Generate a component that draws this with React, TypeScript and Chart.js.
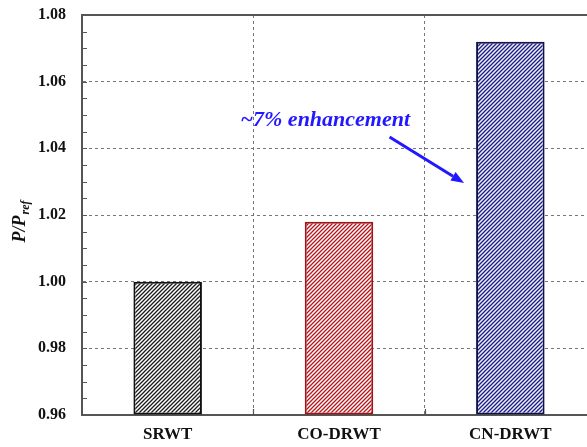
import React, { useEffect, useRef } from "react";
import { Chart, registerables } from "chart.js";

Chart.register(...registerables);

const categories = ["SRWT", "CO-DRWT", "CN-DRWT"];
const values = [1.0, 1.018, 1.072];
const stripeColors = ["#1c1c1c", "#b3161c", "#1e1e80"];
const stripeBackgrounds = ["#ffffff", "#ffffff", "#eef0ff"];
const borderColors = ["#111111", "#9e1418", "#12124a"];
const yMin = 0.96;
const yMax = 1.08;
const yStep = 0.02;
const yMinorStep = 0.005;
const annotationText = "~7% enhancement";
const annotationAt = [0.92, 1.0467];
const arrowFrom = [1.295, 1.0434];
const arrowTo = [1.73, 1.0296];

function makePattern(stripe: string, bg: string): CanvasPattern | string {
  const c = document.createElement("canvas");
  c.width = 4;
  c.height = 4;
  const g = c.getContext("2d");
  if (!g) return stripe;
  g.fillStyle = bg;
  g.fillRect(0, 0, 4, 4);
  g.strokeStyle = stripe;
  g.lineWidth = 1.3;
  g.beginPath();
  g.moveTo(-1, 5);
  g.lineTo(5, -1);
  g.moveTo(-1, 1);
  g.lineTo(1, -1);
  g.moveTo(3, 5);
  g.lineTo(5, 3);
  g.stroke();
  const p = g.createPattern(c, "repeat");
  return p || stripe;
}

const extras = {
  id: "extras",
  afterDraw(chart: any) {
    const { ctx, chartArea, scales } = chart;
    const { left, right, top, bottom } = chartArea;
    const x = scales.x;
    const y = scales.y;
    ctx.save();
    ctx.strokeStyle = "#555555";
    ctx.lineWidth = 2;
    ctx.beginPath();
    ctx.moveTo(left - 1, top);
    ctx.lineTo(right, top);
    ctx.lineTo(right, bottom);
    ctx.stroke();
    // minor ticks
    ctx.lineWidth = 1.2;
    ctx.beginPath();
    const n = Math.round((yMax - yMin) / yMinorStep);
    for (let i = 0; i <= n; i++) {
      const py = Math.round(y.getPixelForValue(yMin + i * yMinorStep)) + 0.5;
      ctx.moveTo(left, py);
      ctx.lineTo(left + 5, py);
    }
    for (let i = 0; i < categories.length - 1; i++) {
      const px = Math.round((x.getPixelForValue(i) + x.getPixelForValue(i + 1)) / 2) + 0.5;
      ctx.moveTo(px, bottom);
      ctx.lineTo(px, bottom - 6);
    }
    ctx.stroke();

    // y title
    ctx.fillStyle = "#111111";
    const big = "italic bold 18px 'Liberation Serif', serif";
    const small = "italic bold 12px 'Liberation Serif', serif";
    ctx.font = big;
    const w1 = ctx.measureText("P/P").width;
    ctx.font = small;
    const w2 = ctx.measureText("ref").width;
    ctx.translate(25, (top + bottom) / 2 + 7);
    ctx.rotate(-Math.PI / 2);
    ctx.textBaseline = "alphabetic";
    ctx.textAlign = "left";
    const sx = -(w1 + w2) / 2;
    ctx.font = big;
    ctx.fillText("P/P", sx, 0);
    ctx.font = small;
    ctx.fillText("ref", sx + w1 + 1, 4);
    ctx.setTransform(1, 0, 0, 1, 0, 0);

    // annotation
    const blue = "#2218ff";
    ctx.fillStyle = blue;
    ctx.font = "italic bold 22px 'Liberation Serif', serif";
    ctx.textAlign = "center";
    ctx.textBaseline = "alphabetic";
    ctx.fillText(annotationText, x.getPixelForValue(annotationAt[0]), y.getPixelForValue(annotationAt[1]));
    const ax0 = x.getPixelForValue(arrowFrom[0]);
    const ay0 = y.getPixelForValue(arrowFrom[1]);
    const ax1 = x.getPixelForValue(arrowTo[0]);
    const ay1 = y.getPixelForValue(arrowTo[1]);
    const ang = Math.atan2(ay1 - ay0, ax1 - ax0);
    const head = 13;
    const hw = 5;
    const bx = ax1 - head * Math.cos(ang);
    const by = ay1 - head * Math.sin(ang);
    ctx.strokeStyle = blue;
    ctx.lineWidth = 3;
    ctx.beginPath();
    ctx.moveTo(ax0, ay0);
    ctx.lineTo(bx, by);
    ctx.stroke();
    ctx.beginPath();
    ctx.moveTo(ax1, ay1);
    ctx.lineTo(bx + hw * Math.sin(ang), by - hw * Math.cos(ang));
    ctx.lineTo(bx - hw * Math.sin(ang), by + hw * Math.cos(ang));
    ctx.closePath();
    ctx.fill();
    ctx.restore();
  },
};

export default function App() {
  const ref = useRef<HTMLCanvasElement | null>(null);
  useEffect(() => {
    if (!ref.current) return;
    const patterns = stripeColors.map((c, i) => makePattern(c, stripeBackgrounds[i]));
    const chart = new Chart(ref.current, {
      type: "bar",
      data: {
        labels: categories,
        datasets: [
          {
            data: values,
            backgroundColor: patterns as any,
            borderColor: borderColors,
            borderWidth: 2,
            borderSkipped: false,
            barPercentage: 0.4,
            categoryPercentage: 1,
            base: yMin,
          } as any,
        ],
      },
      options: {
        responsive: false,
        animation: false,
        devicePixelRatio: 1,
        layout: { padding: { top: 15, right: 4, left: 0, bottom: 0 } },
        plugins: { legend: { display: false }, tooltip: { enabled: false }, title: { display: false } },
        scales: {
          x: {
            grid: {
              offset: true,
              color: "#777777",
              lineWidth: 1,
              drawTicks: false,
            },
            border: { display: true, color: "#555555", width: 2, dash: [3, 3] } as any,
            ticks: {
              padding: 9,
              color: "#111111",
              font: { family: "'Liberation Serif', serif", size: 17, weight: "bold" },
            },
            afterFit: (s: any) => {
              s.height = 32;
              s.paddingLeft = 0;
              s.paddingRight = 0;
            },
          },
          y: {
            min: yMin,
            max: yMax,
            grid: { color: "#777777", lineWidth: 1, drawTicks: false },
            border: { display: true, color: "#555555", width: 2, dash: [3, 3] } as any,
            ticks: {
              stepSize: yStep,
              padding: 16,
              color: "#111111",
              font: { family: "'Liberation Serif', serif", size: 16, weight: "bold" },
              callback: (v: any) => Number(v).toFixed(2),
            },
            afterFit: (s: any) => {
              s.width = 82;
              s.paddingTop = 0;
              s.paddingBottom = 0;
            },
          },
        },
      },
      plugins: [extras],
    });
    return () => chart.destroy();
  }, []);
  return (
    <div style={{ position: "absolute", left: 0, top: 0, width: 587, height: 447, overflow: "hidden", background: "#ffffff" }}>
      <canvas ref={ref} width={600} height={447} style={{ display: "block" }} />
    </div>
  );
}
